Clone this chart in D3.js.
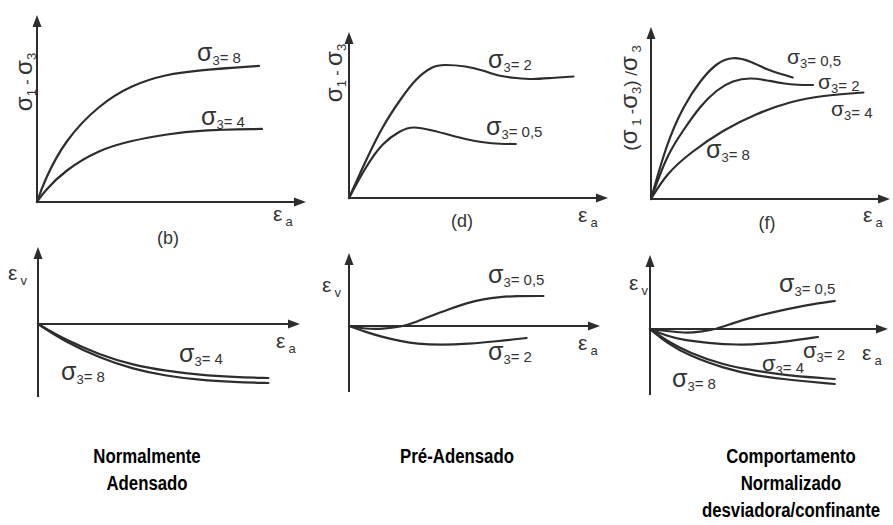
<!DOCTYPE html>
<html>
<head>
<meta charset="utf-8">
<script src="https://cdn.jsdelivr.net/npm/d3@7"></script>
<style>
  body { margin: 0; background: #fff; }
  svg { display: block; font-family: "Liberation Sans", Arial, sans-serif; }
</style>
</head>
<body>
<div id="chart"></div>
<script>
// ---- data (εa in %, stresses in arbitrary units, εv in %) ----

// (b) normalmente adensado: deviator stress
const epsA_b8 = [0, 0.6, 2.3, 5.2, 7.9, 10.7, 13.5, 18.5];
const dev_b8  = [0, 1.4, 4.1, 6.5, 7.8, 8.5, 8.8, 9.07];
const epsA_b4 = [0, 0.6, 2.3, 5.2, 7.9, 10.7, 13.5, 18.75];
const dev_b4  = [0, 0.7, 2.1, 3.5, 4.1, 4.5, 4.8, 4.87];

// (d) pré-adensado: deviator stress
const epsA_d2  = [0, 1.4, 2.8, 4.3, 5.6, 7.0, 7.8, 9.8, 11.2, 12.6, 13.9, 15.3, 16.8, 18.7];
const dev_d2   = [0, 2.5, 4.8, 6.6, 8.0, 8.8, 8.9, 8.8, 8.5, 8.1, 8.0, 7.9, 8.0, 8.1];
const epsA_d05 = [0, 1.4, 2.8, 4.3, 5.3, 7.0, 8.4, 9.8, 11.2, 12.6, 13.9];
const dev_d05  = [0, 2.1, 3.7, 4.5, 4.8, 4.5, 4.2, 3.9, 3.7, 3.6, 3.6];

// (f) normalized deviator (σ1-σ3)/σ3
const epsA_f05 = [0, 1.3, 2.7, 4.1, 5.5, 6.8, 8.3, 9.7, 11.0, 11.8];
const norm_f05 = [0, 3.7, 6.2, 7.9, 9.1, 9.5, 9.2, 8.6, 8.3, 8.1];
const epsA_f2  = [0, 1.3, 2.7, 4.1, 5.5, 6.8, 8.3, 9.7, 11.0, 12.2, 13.5];
const norm_f2  = [0, 2.9, 4.6, 6.2, 7.3, 7.9, 8.1, 7.9, 7.7, 7.6, 7.6];
const epsA_f48 = [0, 1.3, 3.3, 6.0, 8.8, 11.6, 14.3, 17.7];
const norm_f48 = [0, 1.7, 3.1, 4.6, 5.7, 6.5, 6.9, 7.1];

// volumetric strain, normalmente adensado
const epsA_vb  = [0, 2.3, 5.2, 7.9, 10.7, 13.5, 16.3, 19.2];
const epsV_b4  = [0, -1.6, -3.1, -4.1, -4.7, -5.1, -5.3, -5.4];
const epsV_b8  = [0, -1.8, -3.4, -4.5, -5.2, -5.6, -5.8, -5.9];

// volumetric strain, pré-adensado
const epsA_vd05 = [0, 1.4, 2.8, 4.3, 5.6, 7.0, 8.4, 9.8, 11.2, 12.6, 13.9, 16.2];
const epsV_d05  = [0, -0.3, -0.3, -0.1, 0.4, 1.1, 1.7, 2.3, 2.7, 2.9, 3.0, 3.0];
const epsA_vd2  = [0, 1.4, 2.8, 4.3, 5.6, 7.8, 9.8, 12.6, 14.8];
const epsV_d2   = [0, -0.6, -1.1, -1.5, -1.8, -1.9, -1.8, -1.5, -1.2];

// volumetric strain, normalizado
const epsA_vf05 = [0, 1.4, 2.8, 4.2, 5.6, 6.9, 8.9, 11.1, 13.1, 15.4];
const epsV_f05  = [0, -0.2, -0.4, -0.3, 0, 0.6, 1.3, 1.9, 2.4, 2.8];
const epsA_vf2  = [0, 1.4, 2.8, 4.8, 7.3, 9.4, 11.7, 14.0];
const epsV_f2   = [0, -0.7, -1.1, -1.4, -1.6, -1.5, -1.2, -0.8];
const epsA_vf48 = [0, 1.4, 3.3, 6.1, 8.9, 11.7, 15.4];
const epsV_f4   = [0, -1.2, -2.4, -3.6, -4.2, -4.7, -5.0];
const epsV_f8   = [0, -1.4, -2.7, -3.9, -4.7, -5.1, -5.5];

const captions = [
    ["Normalmente", "Adensado"],
    ["Pré-Adensado"],
    ["Comportamento", "Normalizado", "desviadora/confinante"]
];

// ---- layout ----
const width = 893, height = 525;
const ink = "#2d2d2d", textInk = "#333";

const svg = d3.select("#chart").append("svg")
    .attr("width", width)
    .attr("height", height);

const zip = (xs, ys) => xs.map((x, i) => [x, ys[i]]);

// panel frames: origin, axis extents (pixels), scales in data units
const panels = [
    { id: "b", ox: 37,  oy: 202, top: 15,  right: 306, bottom: null, yPerUnit: 15 },
    { id: "d", ox: 349, oy: 198, top: 32,  right: 608, bottom: null, yPerUnit: 15 },
    { id: "f", ox: 651, oy: 199, top: 27,  right: 890, bottom: null, yPerUnit: 15 },
    { id: "vb", ox: 38,  oy: 324, top: 247, right: 300, bottom: 397, yPerUnit: 10 },
    { id: "vd", ox: 349, oy: 326, top: 253, right: 600, bottom: 392, yPerUnit: 10 },
    { id: "vf", ox: 650, oy: 329, top: 255, right: 888, bottom: 395, yPerUnit: 10 }
];

panels.forEach(p => {
    p.x = d3.scaleLinear().domain([0, 20]).range([p.ox, p.ox + 240]);
    p.y = d3.scaleLinear().domain([0, 10]).range([p.oy, p.oy - 10 * p.yPerUnit]);
});
const P = Object.fromEntries(panels.map(p => [p.id, p]));

const curves = [
    { panel: "b",  data: zip(epsA_b8, dev_b8) },
    { panel: "b",  data: zip(epsA_b4, dev_b4) },
    { panel: "d",  data: zip(epsA_d2, dev_d2) },
    { panel: "d",  data: zip(epsA_d05, dev_d05) },
    { panel: "f",  data: zip(epsA_f05, norm_f05) },
    { panel: "f",  data: zip(epsA_f2, norm_f2) },
    { panel: "f",  data: zip(epsA_f48, norm_f48) },
    { panel: "vb", data: zip(epsA_vb, epsV_b4) },
    { panel: "vb", data: zip(epsA_vb, epsV_b8) },
    { panel: "vd", data: zip(epsA_vd05, epsV_d05) },
    { panel: "vd", data: zip(epsA_vd2, epsV_d2) },
    { panel: "vf", data: zip(epsA_vf05, epsV_f05) },
    { panel: "vf", data: zip(epsA_vf2, epsV_f2) },
    { panel: "vf", data: zip(epsA_vf48, epsV_f4) },
    { panel: "vf", data: zip(epsA_vf48, epsV_f8) }
];

// ---- axes ----
function arrow(g, tx, ty, dir) {
    const L = 12, W = 4.5;
    const pts = dir === "up"
        ? [[tx, ty], [tx - W, ty + L], [tx + W, ty + L]]
        : [[tx, ty], [tx - L, ty - W], [tx - L, ty + W]];
    g.append("polygon").attr("points", pts.map(d => d.join(",")).join(" ")).attr("fill", ink);
}

const axisG = svg.append("g");
panels.forEach(p => {
    axisG.append("line")
        .attr("x1", p.ox).attr("x2", p.ox)
        .attr("y1", p.bottom == null ? p.oy : p.bottom).attr("y2", p.top + 8)
        .attr("stroke", ink).attr("stroke-width", 2);
    axisG.append("line")
        .attr("x1", p.ox).attr("x2", p.right - 8)
        .attr("y1", p.oy).attr("y2", p.oy)
        .attr("stroke", ink).attr("stroke-width", 2);
    arrow(axisG, p.ox, p.top, "up");
    arrow(axisG, p.right, p.oy, "right");
});

// ---- curves ----
const curveG = svg.append("g");
curves.forEach(c => {
    const p = P[c.panel];
    const line = d3.line()
        .x(d => p.x(d[0]))
        .y(d => p.y(d[1]))
        .curve(d3.curveBasis);
    curveG.append("path")
        .attr("d", line(c.data))
        .attr("fill", "none")
        .attr("stroke", ink)
        .attr("stroke-width", 2.2)
        .attr("stroke-linecap", "round");
});

// ---- labels ----
const labelG = svg.append("g").attr("fill", textInk);

function sigmaLabel(x, y, value, size = 25) {
    const t = labelG.append("text").attr("x", x).attr("y", y);
    t.append("tspan").attr("font-size", size).text("σ");
    t.append("tspan").attr("font-size", 13).attr("dy", 4).text("3");
    t.append("tspan").attr("font-size", 15).attr("dy", -2).text("= " + value);
}

function epsLabel(x, y, sub) {
    const t = labelG.append("text").attr("x", x).attr("y", y);
    t.append("tspan").attr("font-size", 21).text("ε");
    t.append("tspan").attr("font-size", 13).attr("dx", 3).attr("dy", 5).text(sub);
}

function rotatedLabel(x, y, parts) {
    const t = labelG.append("text")
        .attr("transform", `translate(${x},${y}) rotate(-90)`)
        .attr("text-anchor", "middle");
    parts.forEach(([txt, size, dy]) => {
        t.append("tspan").attr("font-size", size).attr("dy", dy).text(txt);
    });
}

// curve labels
sigmaLabel(197, 61, "8");
sigmaLabel(201, 125, "4");
sigmaLabel(488, 68, "2");
sigmaLabel(486, 135, "0,5");
sigmaLabel(787, 64, "0,5", 21);
sigmaLabel(818, 89, "2", 21);
sigmaLabel(831, 116, "4", 21);
sigmaLabel(706, 158, "8");
sigmaLabel(179, 362, "4");
sigmaLabel(61, 380, "8");
sigmaLabel(488, 283, "0,5");
sigmaLabel(488, 360, "2");
sigmaLabel(779, 292, "0,5");
sigmaLabel(803, 358, "2", 22);
sigmaLabel(762, 371, "4", 22);
sigmaLabel(672, 387, "8");

// axis labels
epsLabel(273, 221, "a");
epsLabel(578, 222, "a");
epsLabel(863, 222, "a");
epsLabel(276, 348, "a");
epsLabel(578, 350, "a");
epsLabel(862, 360, "a");
epsLabel(8, 280, "v");
epsLabel(322, 292, "v");
epsLabel(629, 290, "v");

const devParts = [["σ", 24, 0], ["1", 13, 4], [" - ", 16, -4], ["σ", 24, 0], ["3", 13, 4]];
rotatedLabel(32, 82, devParts);
rotatedLabel(342, 73, devParts);
rotatedLabel(637, 98, [["(", 19, 0], ["σ", 24, 0], [" 1", 13, 4], [" -", 16, -4], ["σ", 24, 0],
    ["3", 13, 4], [")", 19, -4], [" /", 17, 0], ["σ", 24, 0], [" 3", 13, 4]]);

// panel letters
[["(b)", 168, 244], ["(d)", 462, 227], ["(f)", 767, 229]].forEach(([s, x, y]) => {
    labelG.append("text").attr("x", x).attr("y", y)
        .attr("text-anchor", "middle").attr("font-size", 18).text(s);
});

// ---- captions ----
const capX = [147, 457, 791];
const capG = svg.append("g").attr("fill", "#000").attr("font-weight", "bold");
captions.forEach((lines, i) => {
    lines.forEach((s, j) => {
        capG.append("text")
            .attr("transform", `translate(${capX[i]},${463 + 27 * j}) scale(0.8,1)`)
            .attr("text-anchor", "middle")
            .attr("font-size", 21)
            .text(s);
    });
});
</script>
</body>
</html>
